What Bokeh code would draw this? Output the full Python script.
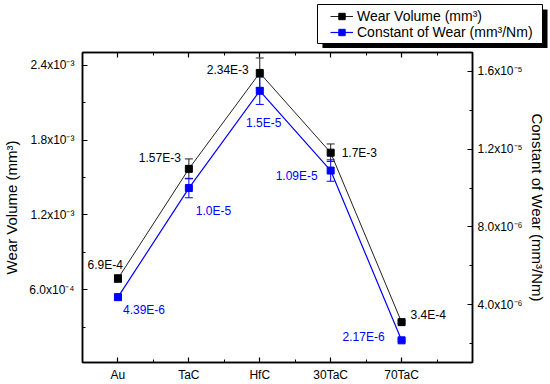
from bokeh.plotting import figure
from bokeh.layouts import column
from bokeh.models import (Range1d, LinearAxis, FixedTicker, Whisker, TeeHead, BoxAnnotation,
                          ColumnDataSource, Legend, LegendItem, Label)
from bokeh.embed import file_html
from bokeh.resources import INLINE

# ---- data ----
categories = ["Au", "TaC", "HfC", "30TaC", "70TaC"]
x_pos = [1, 2, 3, 4, 5]
wear_volume = [6.9e-4, 1.57e-3, 2.34e-3, 1.7e-3, 3.4e-4]
wear_volume_err = [3e-5, 8e-5, 1.2e-4, 7e-5, 1e-5]
wear_constant = [4.39e-6, 1.0e-5, 1.5e-5, 1.09e-5, 2.17e-6]
wear_constant_err = [1.5e-7, 5e-7, 7e-7, 5.5e-7, 5e-8]
volume_labels = ["6.9E-4", "1.57E-3", "2.34E-3", "1.7E-3", "3.4E-4"]
constant_labels = ["4.39E-6", "1.0E-5", "1.5E-5", "1.09E-5", "2.17E-6"]
series_names = ["Wear Volume (mm\u00b3)", "Constant of Wear (mm\u00b3/Nm)"]

left_ticks = [6e-4, 1.2e-3, 1.8e-3, 2.4e-3]
left_minor = [3e-4, 9e-4, 1.5e-3, 2.1e-3]
left_tick_labels = ["6.0x10\u207b\u2074", "1.2x10\u207b\u00b3", "1.8x10\u207b\u00b3", "2.4x10\u207b\u00b3"]
right_ticks = [4e-6, 8e-6, 1.2e-5, 1.6e-5]
right_minor = [2e-6, 6e-6, 1.0e-5, 1.4e-5]
right_tick_labels = ["4.0x10\u207b\u2076", "8.0x10\u207b\u2076", "1.2x10\u207b\u2075", "1.6x10\u207b\u2075"]
x_minor = [1.5, 2.5, 3.5, 4.5, 5.5]

FONT = "Liberation Sans"
BLACK = "#000000"
DARK = "#222222"
BLUE = "#0000ff"
W = 550
LEG_H = 48

# ---------------- main chart ----------------
p = figure(width=W, height=384 - LEG_H, output_backend="svg", toolbar_location=None,
           x_range=Range1d(0.5, 6.0), y_range=Range1d(1.6e-5, 2.504e-3),
           x_axis_location=None, y_axis_location=None, frame_align=False,
           min_border_left=82, min_border_right=78, min_border_top=4, min_border_bottom=21)
p.extra_y_ranges = {"k": Range1d(1.03e-6, 1.697e-5)}
p.xgrid.visible = False
p.ygrid.visible = False
p.outline_line_color = BLACK
p.outline_line_width = 1.5


def style_axis(ax):
    ax.axis_line_width = 1.5
    ax.axis_line_color = BLACK
    ax.major_tick_in = 5
    ax.major_tick_out = 0
    ax.minor_tick_in = 3
    ax.minor_tick_out = 0
    ax.major_tick_line_color = BLACK
    ax.minor_tick_line_color = BLACK
    ax.major_tick_line_width = 1.2
    ax.major_label_text_font = FONT
    ax.major_label_text_font_size = "12px"
    ax.major_label_text_color = BLACK
    ax.axis_label_text_font = FONT
    ax.axis_label_text_font_size = "15px"
    ax.axis_label_text_font_style = "normal"
    ax.axis_label_text_color = BLACK


xb = LinearAxis(ticker=FixedTicker(ticks=x_pos, minor_ticks=x_minor))
xb.major_label_overrides = {x: c for x, c in zip(x_pos, categories)}
style_axis(xb)
xb.major_label_standoff = 5
p.add_layout(xb, "below")

xt = LinearAxis(ticker=FixedTicker(ticks=x_pos, minor_ticks=x_minor))
style_axis(xt)
xt.major_label_overrides = {x: "" for x in x_pos}
xt.major_label_standoff = 0
p.add_layout(xt, "above")

yl = LinearAxis(ticker=FixedTicker(ticks=left_ticks, minor_ticks=left_minor),
                axis_label="Wear Volume (mm\u00b3)")
yl.major_label_overrides = {t: s for t, s in zip(left_ticks, left_tick_labels)}
style_axis(yl)
yl.major_label_standoff = 8
yl.axis_label_standoff = 6
p.add_layout(yl, "left")

yr = LinearAxis(y_range_name="k", ticker=FixedTicker(ticks=right_ticks, minor_ticks=right_minor),
                axis_label="Constant of Wear (mm\u00b3/Nm)")
yr.major_label_overrides = {t: s for t, s in zip(right_ticks, right_tick_labels)}
style_axis(yr)
yr.major_label_standoff = 5
yr.axis_label_standoff = 3
p.add_layout(yr, "right")

src_v = ColumnDataSource(dict(x=x_pos, y=wear_volume,
                              lo=[v - e for v, e in zip(wear_volume, wear_volume_err)],
                              hi=[v + e for v, e in zip(wear_volume, wear_volume_err)]))
src_k = ColumnDataSource(dict(x=x_pos, y=wear_constant,
                              lo=[v - e for v, e in zip(wear_constant, wear_constant_err)],
                              hi=[v + e for v, e in zip(wear_constant, wear_constant_err)]))

p.line("x", "y", source=src_v, line_color=DARK, line_width=1)
p.line("x", "y", source=src_k, line_color=BLUE, line_width=1.2, y_range_name="k")

wv = Whisker(base="x", lower="lo", upper="hi", source=src_v, line_color=DARK, line_width=1,
             upper_head=TeeHead(size=8, line_color=DARK, line_width=1),
             lower_head=TeeHead(size=8, line_color=DARK, line_width=1))
wk = Whisker(base="x", lower="lo", upper="hi", source=src_k, line_color=BLUE, line_width=1,
             y_range_name="k",
             upper_head=TeeHead(size=8, line_color=BLUE, line_width=1),
             lower_head=TeeHead(size=8, line_color=BLUE, line_width=1))
p.add_layout(wv)
p.add_layout(wk)

p.scatter("x", "y", source=src_v, marker="square", size=7, fill_color=BLACK, line_color=BLACK)
p.scatter("x", "y", source=src_k, marker="square", size=7, fill_color=BLUE, line_color=BLUE,
          y_range_name="k")

# value labels: (dx, dy, align)
v_off = [(5, 14, "right"), (-8, 11, "right"), (-11, 3, "right"), (11, 0, "left"), (9, 7, "left")]
k_off = [(5, -13, "left"), (7, -23, "left"), (4, -32, "center"), (-13, -5, "right"), (-17, 3, "right")]
for x, y, t, (dx, dy, al) in zip(x_pos, wear_volume, volume_labels, v_off):
    p.add_layout(Label(x=x, y=y, text=t, x_offset=dx, y_offset=dy, text_align=al,
                       text_baseline="middle", text_font=FONT, text_font_size="12px",
                       text_color=BLACK))
for x, y, t, (dx, dy, al) in zip(x_pos, wear_constant, constant_labels, k_off):
    p.add_layout(Label(x=x, y=y, text=t, x_offset=dx, y_offset=dy, text_align=al,
                       text_baseline="middle", text_font=FONT, text_font_size="12px",
                       text_color=BLUE, y_range_name="k"))

# ---------------- legend strip ----------------
lf = figure(width=W, height=LEG_H, output_backend="svg", toolbar_location=None,
            x_range=Range1d(0, W), y_range=Range1d(LEG_H, 0), frame_align=False,
            x_axis_location=None, y_axis_location=None, min_border=0)
lf.xgrid.visible = False
lf.ygrid.visible = False
lf.outline_line_color = None

# shadow + box (positions in pixels of the strip)
lf.add_layout(BoxAnnotation(left=322, right=547, top=9, bottom=48,
                            fill_color=BLACK, fill_alpha=1.0, line_color=None))
lf.add_layout(BoxAnnotation(left=317, right=542, top=4, bottom=43,
                            fill_color="white", fill_alpha=1.0,
                            line_color=BLACK, line_width=1, line_alpha=1.0))

# off-screen sample glyphs that only feed the legend swatches
off = dict(x=[-100], y=[-100])
r1 = lf.line(x=off["x"], y=off["y"], line_color=DARK, line_width=1)
m1 = lf.scatter(x=off["x"], y=off["y"], marker="square", size=6, fill_color=BLACK, line_color=BLACK)
r2 = lf.line(x=off["x"], y=off["y"], line_color=BLUE, line_width=1.2)
m2 = lf.scatter(x=off["x"], y=off["y"], marker="square", size=6, fill_color=BLUE, line_color=BLUE)

lg = Legend(items=[LegendItem(label=series_names[0], renderers=[r1, m1]),
                   LegendItem(label=series_names[1], renderers=[r2, m2])],
            location=(330, 8), orientation="vertical",
            padding=0, margin=0, spacing=0, label_height=16, glyph_height=16,
            glyph_width=23, label_standoff=4,
            label_text_font=FONT, label_text_font_size="14px", label_text_color=BLACK,
            border_line_color=None, background_fill_alpha=0.0)
lf.add_layout(lg, "center")

layout = column(lf, p, spacing=0)
open("out.html", "w").write(file_html(layout, INLINE))
